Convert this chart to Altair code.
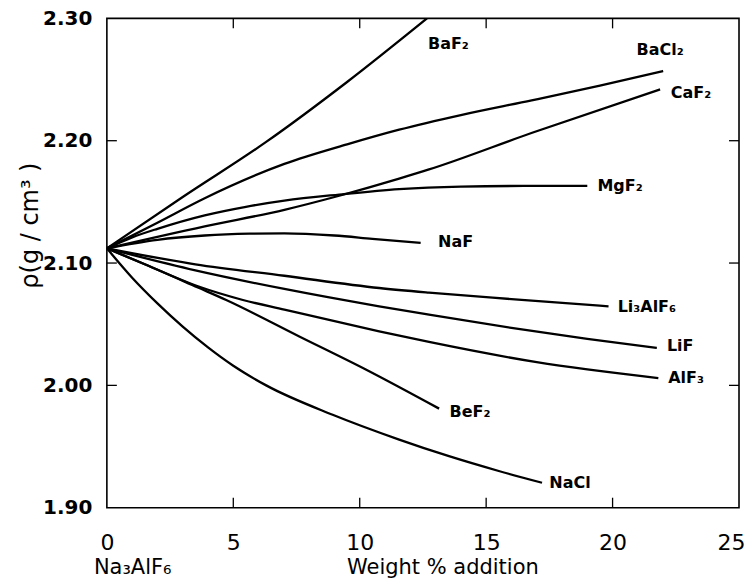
import altair as alt
import pandas as pd

# ---- data (x: weight % addition, y: density g/cm3) ----
baf2_x = [0, 3, 6.3, 9.5, 12.66]
baf2_y = [2.112, 2.154, 2.199, 2.248, 2.30]

bacl2_x = [0, 2, 3.87, 7.02, 9.5, 11.56, 14, 16.8, 19.5, 22]
bacl2_y = [2.112, 2.133, 2.153, 2.181, 2.197, 2.209, 2.221, 2.233, 2.245, 2.257]

caf2_x = [0, 3.87, 7.02, 9.19, 11.56, 12.74, 16.82, 21.88]
caf2_y = [2.112, 2.130, 2.1435, 2.155, 2.169, 2.1765, 2.2065, 2.242]

mgf2_x = [0, 1, 2, 3.87, 5.5, 7.02, 9.19, 11.56, 14, 16.5, 19]
mgf2_y = [2.112, 2.121, 2.128, 2.139, 2.146, 2.151, 2.156, 2.1605, 2.1625, 2.163, 2.163]

naf_x = [0, 2, 3.87, 5.64, 7.02, 9, 10.5, 12.41]
naf_y = [2.112, 2.119, 2.1225, 2.124, 2.1243, 2.1225, 2.1198, 2.1165]

li3alf6_x = [0, 3.5, 7.02, 10.77, 12.74, 16, 19.84]
li3alf6_y = [2.112, 2.099, 2.0896, 2.0796, 2.0758, 2.0705, 2.0646]

lif_x = [0, 3.5, 7.02, 10.77, 12.74, 16, 19, 21.75]
lif_y = [2.112, 2.094, 2.0788, 2.0646, 2.0578, 2.047, 2.038, 2.0306]

alf3_x = [0, 1.5, 3.6, 5.38, 7.02, 10.77, 12.74, 17, 21.81]
alf3_y = [2.112, 2.099, 2.081, 2.0698, 2.0619, 2.0442, 2.0355, 2.019, 2.006]

bef2_x = [0, 1.5, 3.6, 4.72, 7.61, 10.24, 13.14]
bef2_y = [2.112, 2.099, 2.080, 2.0698, 2.040, 2.013, 1.981]

nacl_x = [0, 1, 2, 3, 4, 5, 6.3, 8.93, 11.56, 13.53, 15.5, 17.21]
nacl_y = [2.112, 2.088, 2.067, 2.048, 2.031, 2.016, 2.000, 1.976, 1.9557, 1.9421, 1.930, 1.9204]

series_names = ["BaF2", "BaCl2", "CaF2", "MgF2", "NaF", "Li3AlF6", "LiF", "AlF3", "BeF2", "NaCl"]
series_x = [baf2_x, bacl2_x, caf2_x, mgf2_x, naf_x, li3alf6_x, lif_x, alf3_x, bef2_x, nacl_x]
series_y = [baf2_y, bacl2_y, caf2_y, mgf2_y, naf_y, li3alf6_y, lif_y, alf3_y, bef2_y, nacl_y]

# curve labels (text as printed, anchor in data units)
label_text = ["BaF₂", "BaCl₂", "CaF₂", "MgF₂", "NaF", "Li₃AlF₆", "LiF", "AlF₃", "BeF₂", "NaCl"]
label_x = [12.7, 20.95, 22.3, 19.4, 13.1, 20.2, 22.15, 22.2, 13.55, 17.5]
label_y = [2.279, 2.274, 2.239, 2.163, 2.117, 2.064, 2.032, 2.006, 1.978, 1.920]

x_ticks = [0, 5, 10, 15, 20, 25]
y_ticks = [1.90, 2.00, 2.10, 2.20, 2.30]
inner_x_ticks = [5, 10, 15, 20]
inner_y_ticks = [2.00, 2.10, 2.20]

W, H = 633, 490

rows = []
for name, xs, ys in zip(series_names, series_x, series_y):
    for i, (a, b) in enumerate(zip(xs, ys)):
        rows.append({"series": name, "order": i, "x": a, "y": b})
df = pd.DataFrame(rows)
labels_df = pd.DataFrame({"text": label_text, "x": label_x, "y": label_y})
xt_df = pd.DataFrame({"x": inner_x_ticks})
yt_df = pd.DataFrame({"y": inner_y_ticks})

xscale = alt.Scale(domain=[0, 25], nice=False, zero=False)
yscale = alt.Scale(domain=[1.90, 2.30], nice=False, zero=False)

xaxis = alt.Axis(values=x_ticks, format="d", title="Weight % addition",
                 titleX=336, titleY=60, titleAlign="center", titleBaseline="middle",
                 titleFont="DejaVu Sans", titleFontSize=21, titleFontWeight="normal",
                 titleColor="black",
                 labelFont="DejaVu Sans", labelFontSize=22, labelColor="black",
                 labelPadding=25, ticks=False, domain=False, grid=False,
                 labelFlush=False,
                 labelOffset={"condition": {"test": "datum.value == 25", "value": -8}, "value": 0})
yaxis = alt.Axis(values=y_ticks, format=".2f", title="ρ(g\u00a0/\u00a0cm³ )",
                 titleX=-76, titleY=207, titleAngle=270, titleAlign="center",
                 titleBaseline="middle",
                 titleFont="DejaVu Sans", titleFontSize=24, titleFontWeight="normal",
                 titleColor="black",
                 labelFont="DejaVu Sans", labelFontWeight="bold", labelFontSize=20,
                 labelColor="black", labelPadding=15, ticks=False, domain=False,
                 grid=False, labelFlush=False)

X = alt.X("x:Q", scale=xscale, axis=xaxis)
Y = alt.Y("y:Q", scale=yscale, axis=yaxis)

lines = alt.Chart(df).mark_line(color="black", strokeWidth=2.3, interpolate="monotone", clip=True).encode(
    x=X, y=Y, detail="series:N", order="order:Q",
)

texts = alt.Chart(labels_df).mark_text(align="left", baseline="middle", font="DejaVu Sans",
                                       fontWeight="bold", fontSize=16, color="black").encode(
    x=X, y=Y, text="text:N",
)

tick_len = 10
bottom_ticks = alt.Chart(xt_df).mark_rule(color="black", strokeWidth=1.3).encode(
    x=X, y=alt.value(H), y2=alt.value(H - tick_len))
top_ticks = alt.Chart(xt_df).mark_rule(color="black", strokeWidth=1.3).encode(
    x=X, y=alt.value(0), y2=alt.value(tick_len))
left_ticks = alt.Chart(yt_df).mark_rule(color="black", strokeWidth=1.3).encode(
    y=Y, x=alt.value(0), x2=alt.value(tick_len))
right_ticks = alt.Chart(yt_df).mark_rule(color="black", strokeWidth=1.3).encode(
    y=Y, x=alt.value(W), x2=alt.value(W - tick_len))

base_label = alt.Chart(pd.DataFrame({"x": [0], "t": ["Na₃AlF₆"]})).mark_text(
    align="left", baseline="middle", font="DejaVu Sans", fontSize=21, color="black", dx=-13
).encode(x=X, y=alt.value(550), text="t:N")

chart = alt.layer(lines, texts, bottom_ticks, top_ticks, left_ticks, right_ticks, base_label).properties(
    width=W, height=H,
    autosize=alt.AutoSizeParams(type="none"),
    padding={"left": 99, "top": 10, "right": 6, "bottom": 70},
    background="white",
).configure_view(stroke="black", strokeWidth=1.6)

chart.save("out.html", embed_options={"renderer": "svg", "actions": False})
